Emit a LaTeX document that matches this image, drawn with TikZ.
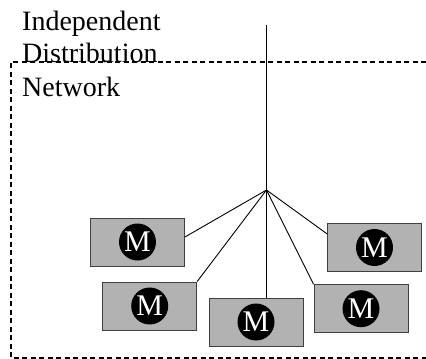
\documentclass[tikz,border=0pt]{standalone}
\usepackage{fontspec}
\setmainfont{Liberation Serif}
\tikzset{
  mbox/.style={draw=black!75, line width=0.8pt, fill=gray!60, minimum width=94pt, minimum height=48pt, inner sep=0pt},
  mdot/.style={circle, fill=black, text=white, minimum size=37pt, inner sep=0pt, font=\fontsize{30}{30}\selectfont},
  frame/.style={line width=2pt, dash pattern=on 5pt off 3.5pt},
  wire/.style={line width=0.9pt}
}
\begin{document}
\begin{tikzpicture}[x=1pt, y=-1pt, every node/.style={font=\fontsize{28}{34}\selectfont}]
	\useasboundingbox (0,0) rectangle (426,359);
	% network frame, open to the right
	\draw[frame] (426,62) -- (10.7,62) -- (10.7,357.5) -- (426,357.5);
	\node[anchor=base west, inner sep=0pt] (lbl1) at (22,30) {Independent};
	\node[anchor=base west, inner sep=0pt] (lbl2) at (22,62) {Distribution};
	\node[anchor=base west, inner sep=0pt] (lbl3) at (22,96) {Network};
	% feed and hub
	\coordinate (feed) at (266.5,25);
	\coordinate (hub) at (266.5,190);
	% machines
	\node[mbox] (m1) at (137.5,242) {};
	\node[mbox] (m2) at (149.7,306) {};
	\node[mbox] (m3) at (256,322) {};
	\node[mbox] (m4) at (361,308.7) {};
	\node[mbox] (m5) at (374.5,247.5) {};
	\node[mdot] (c1) at (m1) {M};
	\node[mdot] (c2) at (m2) {M};
	\node[mdot] (c3) at (m3) {M};
	\node[mdot] (c4) at (m4) {M};
	\node[mdot] (c5) at (m5) {M};
	% wiring
	\draw[wire] (feed) -- (hub);
	\draw[wire] (hub) -- (m1.6);
	\draw[wire] (hub) -- (m2.north east);
	\draw[wire] (hub) -- (hub |- m3.north);
	\draw[wire] (hub) -- (m4.north west);
	\draw[wire] (hub) -- (m5.164);
\end{tikzpicture}
\end{document}
